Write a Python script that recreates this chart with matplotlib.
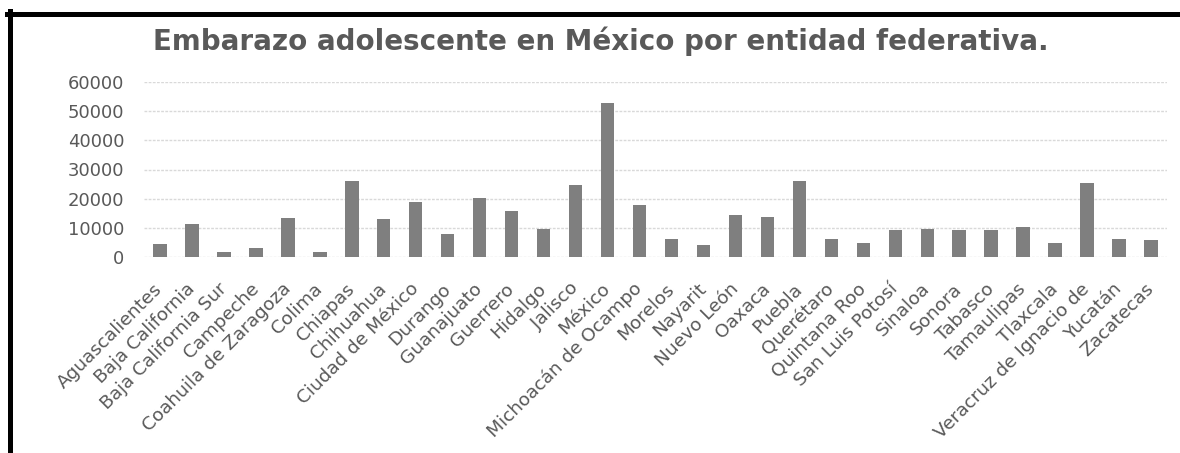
import matplotlib
matplotlib.use('Agg')
import matplotlib.pyplot as plt
from matplotlib.lines import Line2D

# Embarazo adolescente por entidad federativa
entidades = [
    'Aguascalientes', 'Baja California', 'Baja California Sur', 'Campeche',
    'Coahuila de Zaragoza', 'Colima', 'Chiapas', 'Chihuahua',
    'Ciudad de México', 'Durango', 'Guanajuato', 'Guerrero', 'Hidalgo',
    'Jalisco', 'México', 'Michoacán de Ocampo', 'Morelos', 'Nayarit',
    'Nuevo León', 'Oaxaca', 'Puebla', 'Querétaro', 'Quintana Roo',
    'San Luis Potosí', 'Sinaloa', 'Sonora', 'Tabasco', 'Tamaulipas',
    'Tlaxcala', 'Veracruz de Ignacio de', 'Yucatán', 'Zacatecas',
]
embarazos = [
    4400, 11300, 1800, 3200, 13400, 1800, 26100, 13100,
    18800, 7800, 20200, 15900, 9600, 24700, 52700, 17800,
    6100, 4100, 14400, 13800, 26100, 6200, 4900, 9300,
    9600, 9300, 9300, 10400, 4900, 25500, 6200, 5800,
]
y_ticks = [0, 10000, 20000, 30000, 40000, 50000, 60000]

W, H = 1180, 453
fig = plt.figure(figsize=(W / 100, H / 100), dpi=100)
ax = fig.add_axes([144 / W, (H - 257) / H, (1167 - 144) / W, (257 - 82) / H])

x = list(range(len(entidades)))
ax.bar(x, embarazos, width=0.42, color='#7f7f7f', zorder=3)

ax.set_xlim(-0.5, len(entidades) - 0.5)
ax.set_ylim(0, 60000)
ax.set_yticks(y_ticks)
ax.set_yticklabels([str(v) for v in y_ticks])
ax.set_xticks(x)
ax.set_xticklabels(entidades, rotation=45, ha='right', va='center',
                   rotation_mode='anchor')
ax.tick_params(axis='y', length=0, pad=14, labelsize=13, labelcolor='#595959')
ax.tick_params(axis='x', length=0, pad=21, labelsize=13.3, labelcolor='#595959')
ax.grid(axis='y', color='#d9d9d9', linestyle=(0, (2, 1)), linewidth=1, zorder=0)
for s in ax.spines.values():
    s.set_visible(False)

fig.text(601 / W, 1 - 50 / H, 'Embarazo adolescente en México por entidad federativa.',
         ha='center', va='baseline', fontsize=20, fontweight='bold', color='#595959')

# marco negro arriba e izquierda
fig.add_artist(Line2D([7 / W, 1], [1 - 13.5 / H, 1 - 13.5 / H], color='black',
                      linewidth=3.6, transform=fig.transFigure))
fig.add_artist(Line2D([9.5 / W, 9.5 / W], [0, 1 - 11 / H], color='black',
                      linewidth=3.6, transform=fig.transFigure))

fig.savefig('out.png', dpi=100)
